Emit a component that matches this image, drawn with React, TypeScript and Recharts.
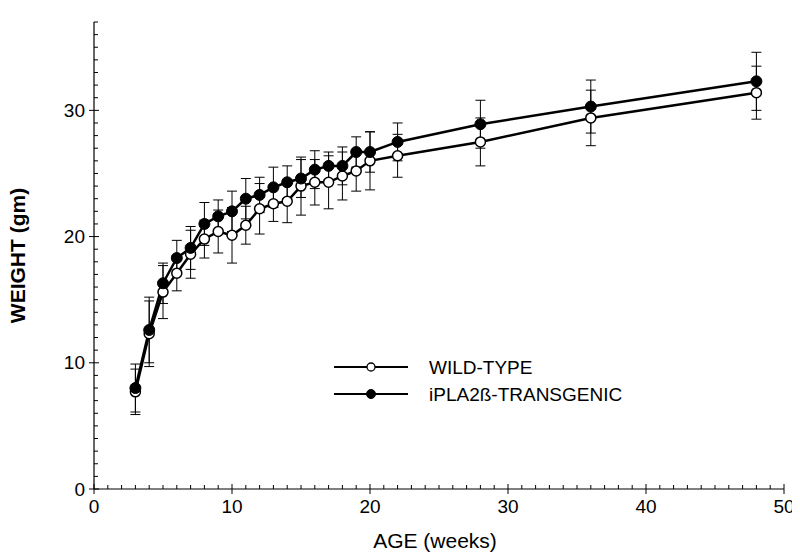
import React from 'react';
import { LineChart, Line, XAxis, YAxis, ErrorBar, Legend } from 'recharts';

// Age in weeks
const weeks = [3, 4, 5, 6, 7, 8, 9, 10, 11, 12, 13, 14, 15, 16, 17, 18, 19, 20, 22, 28, 36, 48];
// Wild-type body weight (gm) and error
const wildType = [7.7, 12.3, 15.6, 17.1, 18.6, 19.8, 20.4, 20.1, 20.9, 22.2, 22.6, 22.8, 24.0, 24.3, 24.3, 24.8, 25.2, 26.0, 26.4, 27.5, 29.4, 31.4];
const wildTypeErr = [1.8, 2.6, 2.1, 1.4, 1.9, 1.5, 1.7, 2.2, 1.5, 2.0, 1.4, 1.7, 2.3, 1.8, 2.1, 1.9, 1.6, 2.3, 1.7, 1.9, 2.2, 2.1];
// iPLA2ß-transgenic body weight (gm) and error
const transgenic = [8.0, 12.6, 16.3, 18.3, 19.1, 21.0, 21.6, 22.0, 23.0, 23.3, 23.9, 24.3, 24.6, 25.3, 25.6, 25.6, 26.7, 26.7, 27.5, 28.9, 30.3, 32.3];
const transgenicErr = [1.9, 2.6, 1.6, 1.4, 1.7, 1.7, 1.3, 1.6, 1.6, 1.4, 1.6, 1.3, 1.5, 1.5, 1.1, 1.5, 1.2, 1.6, 1.5, 1.9, 2.1, 2.3];

const seriesNames = ['WILD-TYPE', 'iPLA2ß-TRANSGENIC'];
const xMajorTicks = [0, 10, 20, 30, 40, 50];
const yMajorTicks = [0, 10, 20, 30];
const xDomain = [0, 50];
const yDomain = [0, 37];
const xAllTicks = Array.from({ length: 51 }, (_, i) => i);
const yAllTicks = Array.from({ length: 38 }, (_, i) => i);

const rows = weeks.map((w, i) => ({
  week: w,
  wt: wildType[i],
  wtErr: wildTypeErr[i],
  tg: transgenic[i],
  tgErr: transgenicErr[i],
}));

const FONT = "'Liberation Sans', Arial, Helvetica, sans-serif";

const XBottomTick = (props: any) => {
  const { x, y, payload } = props;
  const v = payload.value;
  const major = xMajorTicks.includes(v);
  return (
    <g>
      <line x1={x} x2={x} y1={y} y2={y - (major ? 5 : 4)} stroke="#000" strokeWidth={1} />
      {major && <line x1={x} x2={x} y1={y} y2={y + 5} stroke="#000" strokeWidth={1} />}
      {major && (
        <text x={x} y={y + 17} textAnchor="middle" dy="0.35em" fontFamily={FONT} fontSize={19} fill="#000">
          {v}
        </text>
      )}
    </g>
  );
};

const XTopTick = (props: any) => {
  const { x, y, payload } = props;
  const major = xMajorTicks.includes(payload.value);
  return <line x1={x} x2={x} y1={y} y2={y - (major ? 6 : 4)} stroke="#000" strokeWidth={1} />;
};

const YLeftTick = (props: any) => {
  const { x, y, payload } = props;
  const v = payload.value;
  const major = yMajorTicks.includes(v);
  return (
    <g>
      <line x1={x} x2={x + (major ? 5 : 4)} y1={y} y2={y} stroke="#000" strokeWidth={1} />
      {major && <line x1={x} x2={x - 5} y1={y} y2={y} stroke="#000" strokeWidth={1} />}
      {major && (
        <text x={x - 9} y={y} textAnchor="end" dy="0.35em" fontFamily={FONT} fontSize={19} fill="#000">
          {v}
        </text>
      )}
    </g>
  );
};

const YRightTick = (props: any) => {
  const { x, y, payload } = props;
  const major = yMajorTicks.includes(payload.value);
  return <line x1={x} x2={x + (major ? 6 : 4)} y1={y} y2={y} stroke="#000" strokeWidth={1} />;
};

const AgeLabel = (props: any) => {
  const vb = props.viewBox || { x: 94, y: 489, width: 690, height: 63 };
  return (
    <text x={vb.x + vb.width / 2 - 4} y={vb.y + 52} textAnchor="middle" dy="0.35em" fontFamily={FONT} fontSize={21} fill="#000">
      AGE (weeks)
    </text>
  );
};

const WeightLabel = (props: any) => {
  const vb = props.viewBox || { x: 34, y: 22, width: 60, height: 467 };
  const cx = vb.x - 16;
  const cy = vb.y + vb.height / 2;
  return (
    <text x={cx} y={cy} transform={`rotate(-90, ${cx}, ${cy})`} textAnchor="middle" dy="0.35em" fontFamily={FONT} fontSize={21} fontWeight="bold" fill="#000">
      WEIGHT (gm)
    </text>
  );
};

const LegendContent = () => (
  <svg width={320} height={60} style={{ display: 'block', overflow: 'visible' }}>
    <line x1={2} x2={76} y1={12} y2={12} stroke="#000" strokeWidth={2} />
    <circle cx={39} cy={12} r={4} fill="#fff" stroke="#000" strokeWidth={1.3} />
    <text x={97} y={12} dy="0.35em" fontFamily={FONT} fontSize={19} fill="#000">{seriesNames[0]}</text>
    <line x1={2} x2={76} y1={39} y2={39} stroke="#000" strokeWidth={2} />
    <circle cx={39} cy={39} r={4.5} fill="#000" stroke="#000" strokeWidth={1} />
    <text x={97} y={39} dy="0.35em" fontFamily={FONT} fontSize={19} fill="#000">{seriesNames[1]}</text>
  </svg>
);

export default function App() {
  return (
    <div style={{ marginLeft: -8, marginTop: -8, width: 800 }}>
      <LineChart width={800} height={552} data={rows} margin={{ top: 22, right: 16, bottom: 0, left: 34 }}>
        <XAxis
          xAxisId={0}
          dataKey="week"
          type="number"
          domain={xDomain}
          allowDataOverflow
          ticks={xAllTicks}
          interval={0}
          tickSize={0}
          tickMargin={0}
          tickLine={false}
          tick={<XBottomTick />}
          height={63}
          axisLine={{ stroke: '#000', strokeWidth: 1.2 }}
          label={{ content: AgeLabel }}
        />
        <XAxis
          xAxisId="top"
          orientation="top"
          type="number"
          domain={xDomain}
          allowDataOverflow
          ticks={xAllTicks}
          interval={0}
          tickSize={0}
          tickMargin={0}
          tickLine={false}
          tick={<XTopTick />}
          height={0}
          axisLine={{ stroke: '#000', strokeWidth: 1.2 }}
        />
        <YAxis
          yAxisId={0}
          type="number"
          domain={yDomain}
          allowDataOverflow
          ticks={yAllTicks}
          interval={0}
          tickSize={0}
          tickMargin={0}
          tickLine={false}
          tick={<YLeftTick />}
          width={60}
          axisLine={{ stroke: '#000', strokeWidth: 1.2 }}
          label={{ content: WeightLabel }}
        />
        <YAxis
          yAxisId="right"
          orientation="right"
          type="number"
          domain={yDomain}
          allowDataOverflow
          ticks={yAllTicks}
          interval={0}
          tickSize={0}
          tickMargin={0}
          tickLine={false}
          tick={<YRightTick />}
          width={0}
          axisLine={{ stroke: '#000', strokeWidth: 1.2 }}
        />
        <Legend
          layout="horizontal"
          verticalAlign="middle"
          align="center"
          wrapperStyle={{ position: 'absolute', left: 332, top: 355, width: 320, height: 60 }}
          content={LegendContent}
        />
        <Line
          xAxisId={0}
          yAxisId={0}
          type="linear"
          dataKey="wt"
          name={seriesNames[0]}
          stroke="#000"
          strokeWidth={2.5}
          dot={{ r: 5, fill: '#fff', stroke: '#000', strokeWidth: 1.5 }}
          activeDot={false}
          isAnimationActive={false}
        >
          <ErrorBar dataKey="wtErr" width={5} stroke="#000" strokeWidth={1} direction="y" isAnimationActive={false} />
        </Line>
        <Line
          xAxisId={0}
          yAxisId={0}
          type="linear"
          dataKey="tg"
          name={seriesNames[1]}
          stroke="#000"
          strokeWidth={2.5}
          dot={{ r: 5.5, fill: '#000', stroke: '#000', strokeWidth: 1 }}
          activeDot={false}
          isAnimationActive={false}
        >
          <ErrorBar dataKey="tgErr" width={5} stroke="#000" strokeWidth={1} direction="y" isAnimationActive={false} />
        </Line>
      </LineChart>
    </div>
  );
}
